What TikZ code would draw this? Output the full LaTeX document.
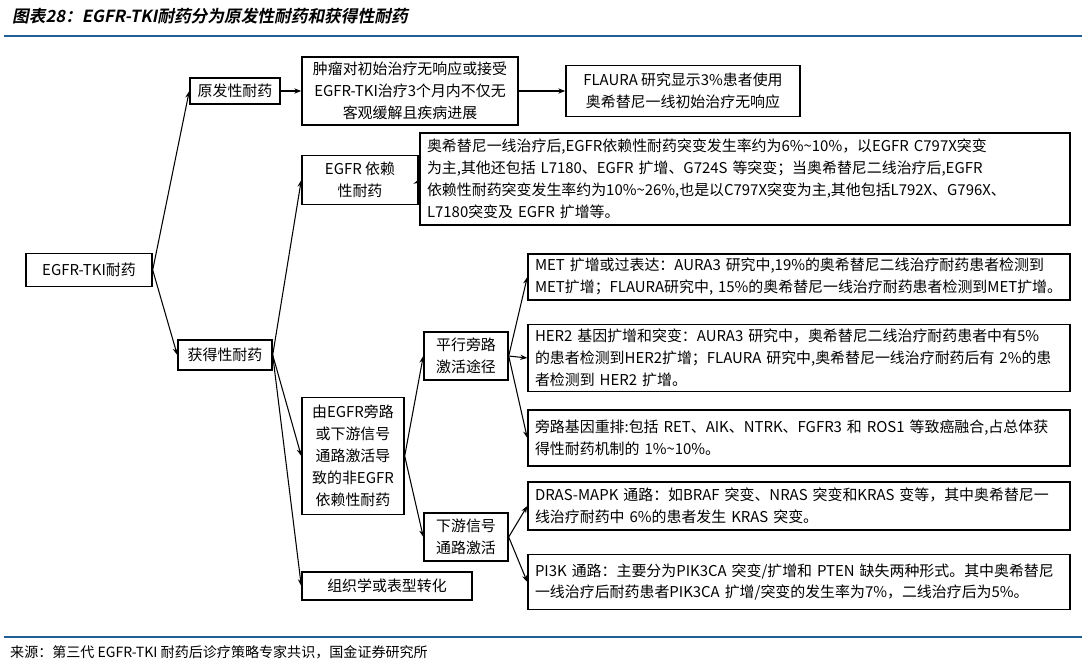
\documentclass[tikz,border=0pt]{standalone}
\usepackage{fontspec}
\setmainfont{Noto Sans CJK SC}
\newfontfamily\titlefont[FakeSlant=0.2]{Noto Sans CJK SC Bold}
\usetikzlibrary{arrows.meta}
\definecolor{rule_blue}{RGB}{31, 94, 150}
\tikzset{
  bx/.style 2 args={draw=black,line width=0.8pt,inner sep=0pt,align=center,
    minimum width=#1*0.02cm,minimum height=#2*0.02cm,
    font=\fontsize{8.5}{12.5}\selectfont},
  tx/.style 2 args={draw=black,line width=0.8pt,inner xsep=4pt,inner ysep=0pt,
    align=left,text width=#1*0.02cm-8pt,minimum height=#2*0.02cm,
    font=\fontsize{8.5}{12.5}\selectfont},
  ar/.style={-{Stealth[length=4pt,width=3pt]},line width=0.6pt}
}
\begin{document}
\begin{tikzpicture}[x=0.02cm,y=-0.02cm]
    \useasboundingbox (0,0) rectangle (1086,664);
    \node [anchor=west,font=\titlefont\fontsize{9.5}{11}\selectfont] (title) at (6,16) {图表28：EGFR-TKI耐药分为原发性耐药和获得性耐药};
    \draw [rule_blue,line width=1.2pt] (4,36) -- (1082,36);
    \draw [rule_blue,line width=1.2pt] (4,637) -- (1082,637);
    \node [anchor=west,font=\fontsize{8}{10}\selectfont] (src) at (4,652) {来源：第三代 EGFR-TKI 耐药后诊疗策略专家共识，国金证券研究所};
    % boxes
    \node [bx={126}{33}] (tki) at (89,270) {EGFR-TKI耐药};
    \node [bx={90}{26}] (prim) at (235,91) {原发性耐药};
    \node [bx={216}{68}] (primd) at (410,91) {肿瘤对初始治疗无响应或接受\\EGFR-TKI治疗3个月内不仅无\\客观缓解且疾病进展};
    \node [bx={234}{51}] (flaura) at (683,91) {FLAURA 研究显示3\%患者使用\\奥希替尼一线初始治疗无响应};
    \node [bx={116}{49}] (dep) at (360,180) {EGFR 依赖\\性耐药};
    \node [tx={650}{92}] (depd) at (745,179) {奥希替尼一线治疗后,EGFR依赖性耐药突变发生率约为6\%\textasciitilde10\%，以EGFR C797X突变\\为主,其他还包括 L7180、EGFR 扩增、G724S 等突变；当奥希替尼二线治疗后,EGFR\\依赖性耐药突变发生率约为10\%\textasciitilde26\%,也是以C797X突变为主,其他包括L792X、G796X、\\L7180突变及 EGFR 扩增等。};
    \node [bx={94}{30}] (acq) at (225,355) {获得性耐药};
    \node [bx={102}{117}] (nondep) at (353,456) {由EGFR旁路\\或下游信号\\通路激活导\\致的非EGFR\\依赖性耐药};
    \node [bx={84}{48}] (par) at (466,356) {平行旁路\\激活途径};
    \node [bx={84}{48}] (down) at (466,537) {下游信号\\通路激活};
    \node [bx={170}{28}] (histo) at (387,586) {组织学或表型转化};
    \node [tx={542}{46}] (met) at (799,277) {MET 扩增或过表达：AURA3 研究中,19\%的奥希替尼二线治疗耐药患者检测到\\MET扩增；FLAURA研究中, 15\%的奥希替尼一线治疗耐药患者检测到MET扩增。};
    \node [tx={542}{67}] (her2) at (799,358) {HER2 基因扩增和突变：AURA3 研究中，奥希替尼二线治疗耐药患者中有5\%\\的患者检测到HER2扩增；FLAURA 研究中,奥希替尼一线治疗耐药后有 2\%的患\\者检测到 HER2 扩增。};
    \node [tx={542}{56}] (fus) at (799,438) {旁路基因重排:包括 RET、AIK、NTRK、FGFR3 和 ROS1 等致癌融合,占总体获\\得性耐药机制的 1\%\textasciitilde10\%。};
    \node [tx={542}{48}] (dras) at (799,506) {DRAS-MAPK 通路：如BRAF 突变、NRAS 突变和KRAS 变等，其中奥希替尼一\\线治疗耐药中 6\%的患者发生 KRAS 突变。};
    \node [tx={542}{55}] (pi3k) at (799,582) {PI3K 通路：主要分为PIK3CA 突变/扩增和 PTEN 缺失两种形式。其中奥希替尼\\一线治疗后耐药患者PIK3CA 扩增/突变的发生率为7\%，二线治疗后为5\%。};
    % connectors
    \draw [ar] (tki.east) -- (prim.west);
    \draw [ar] (tki.east) -- (acq.west);
    \draw [ar] (prim.east) -- (primd.west);
    \draw [ar] (primd.east) -- (flaura.west);
    \draw [ar] (acq.east) -- (dep.west);
    \draw [ar] (acq.east) -- (nondep.west);
    \draw [ar] (acq.east) -- (histo.west);
    \draw [ar] (dep.east) -- (depd.west);
    \draw [ar] (nondep.east) -- (par.west);
    \draw [ar] (nondep.east) -- (down.west);
    \draw [ar] (par.east) -- (met.west);
    \draw [ar] (par.east) -- (her2.west);
    \draw [ar] (par.east) -- (fus.west);
    \draw [ar] (down.east) -- (dras.west);
    \draw [ar] (down.east) -- (pi3k.west);
\end{tikzpicture}
\end{document}
